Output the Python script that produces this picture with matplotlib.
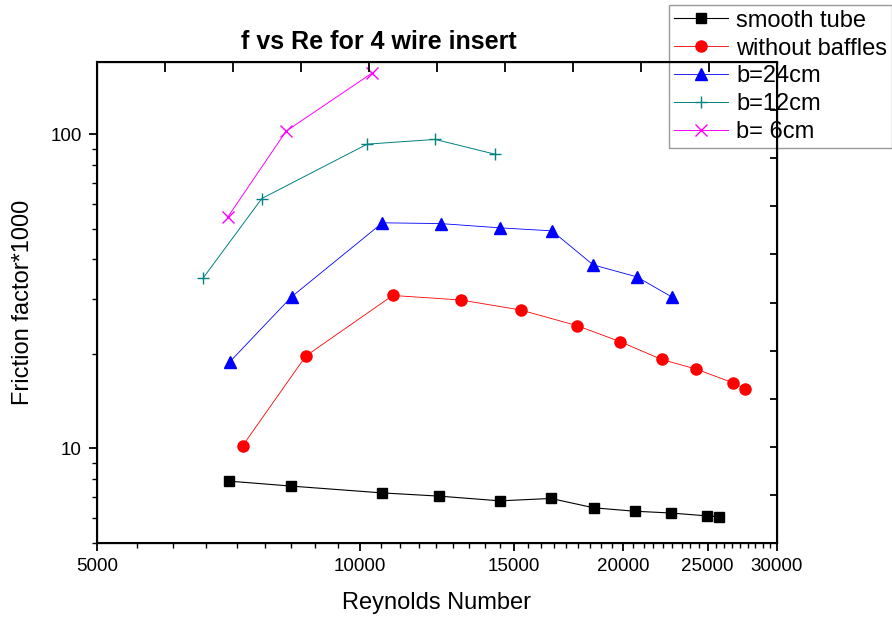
import matplotlib
matplotlib.use("Agg")
import matplotlib.pyplot as plt
from matplotlib.ticker import FixedLocator, NullFormatter, LogLocator
import numpy as np

plt.rcParams['font.family'] = ['Liberation Sans', 'DejaVu Sans']

# data (Re, friction factor*1000)
re_smooth = [7080, 8330, 10590, 12320, 14460, 16540, 18520, 20650, 22670, 24920, 25760]
f_smooth = [7.87, 7.59, 7.22, 7.05, 6.81, 6.93, 6.47, 6.31, 6.23, 6.10, 6.06]

re_nobaffle = [7340, 8670, 10900, 13040, 15270, 17720, 19830, 22140, 24240, 26690, 27570]
f_nobaffle = [10.2, 19.7, 30.7, 29.7, 27.6, 24.6, 21.9, 19.2, 17.9, 16.2, 15.5]

re_b24 = [7100, 8350, 10610, 12370, 14460, 16580, 18490, 20730, 22730]
f_b24 = [18.9, 30.4, 52.3, 52.0, 50.4, 49.3, 38.4, 35.2, 30.4]

re_b12 = [6610, 7720, 10190, 12190, 14290]
f_b12 = [34.8, 62.5, 93.1, 96.4, 86.4]

re_b6 = [7060, 8230, 10330]
f_b6 = [54.6, 102.4, 157]

xticks = [5000, 10000, 15000, 20000, 25000, 30000]

fig = plt.figure(figsize=(8.92, 6.19), dpi=100)
ax = fig.add_axes([0.1087, 0.1228, 0.7623, 0.777])

ax.plot(re_smooth, f_smooth, '-s', color='black', lw=0.8, ms=7, label='smooth tube')
ax.plot(re_nobaffle, f_nobaffle, '-o', color='red', mec='red', lw=0.6, ms=8, label='without baffles')
ax.plot(re_b24, f_b24, '-^', color='#0000ff', lw=0.6, ms=9, label='b=24cm')
ax.plot(re_b12, f_b12, '-+', color='#008080', lw=0.7, ms=9, mew=1.0, label='b=12cm')
ax.plot(re_b6, f_b6, '-x', color='#ff00ff', lw=0.7, ms=9, mew=1.0, label='b= 6cm')

ax.set_xscale('log')
ax.set_yscale('log')
ax.set_xlim(5000, 30000)
ax.set_ylim(5, 170)

ax.xaxis.set_major_locator(FixedLocator(xticks))
ax.set_xticklabels([str(t) for t in xticks])
ax.xaxis.set_minor_locator(FixedLocator(np.arange(5000, 30001, 5000 / 9)))
ax.xaxis.set_minor_formatter(NullFormatter())
ax.yaxis.set_major_locator(FixedLocator([10, 100]))
ax.set_yticklabels(['10', '100'])
ax.yaxis.set_minor_locator(LogLocator(base=10, subs=np.arange(2, 10)))
ax.yaxis.set_minor_formatter(NullFormatter())

ax.tick_params(which='major', direction='out', length=6, width=1.3, labelsize=13.5,
               pad=5, top=False, right=False)
ax.tick_params(which='minor', direction='out', length=3.5, width=1.0, top=False, right=False)
for s in ax.spines.values():
    s.set_linewidth(1.5)

# Origin-style plain ticks on the opposite axes
axt = ax.twiny()
axt.set_xlim(0, 10)
axt.set_xticks(range(11))
axt.tick_params(axis='x', direction='in', length=7, width=1.3, labeltop=False)
axr = ax.twinx()
axr.set_ylim(0, 10)
axr.set_yticks(range(11))
axr.tick_params(axis='y', direction='in', length=5, width=1.3, labelright=False)

ax.set_xlabel('Reynolds Number', fontsize=17, labelpad=12)
ax.set_ylabel('Friction factor*1000', fontsize=17, labelpad=12)
fig.text(0.425, 0.932, 'f vs Re for 4 wire insert', fontsize=18, fontweight='bold',
         ha='center', va='center')

leg = ax.legend(loc='upper right', bbox_to_anchor=(1.0, 0.992), bbox_transform=fig.transFigure,
                fontsize=17, frameon=True, fancybox=False, edgecolor='#808080',
                facecolor='none', handlelength=2.3, handletextpad=0.35,
                labelspacing=0.25, borderpad=0.2, borderaxespad=0)
leg.get_frame().set_linewidth(1.0)
leg.set_zorder(1)

fig.savefig('out.png', dpi=100)
